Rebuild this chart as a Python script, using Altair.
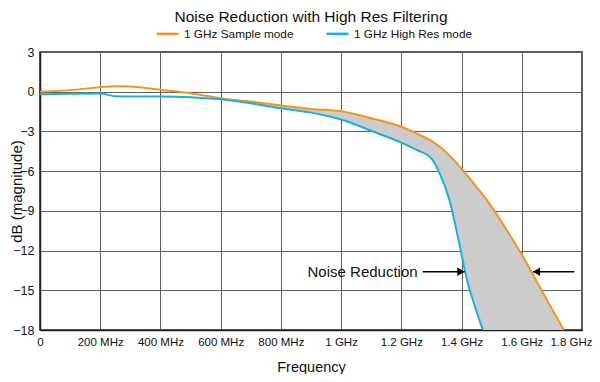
import altair as alt
import pandas as pd

# ---------------- data ----------------
series_names = ["1 GHz Sample mode", "1 GHz High Res mode"]
series_colors = ["#F7941D", "#1AAFDC"]

freq_ghz = [0.0, 0.1, 0.2, 0.25, 0.3, 0.4, 0.5, 0.6, 0.7, 0.8, 0.9, 1.0, 1.1, 1.2,
            1.25, 1.3, 1.33, 1.36, 1.39, 1.42, 1.45, 1.471, 1.5, 1.55, 1.6, 1.65, 1.7, 1.74]
sample_db = [0.0, 0.12, 0.34, 0.42, 0.40, 0.14, -0.11, -0.49, -0.74, -1.04, -1.3, -1.48, -2.0, -2.65,
             -3.15, -3.72, -4.2, -4.82, -5.55, -6.35, -7.2, -7.8, -8.7, -10.45, -12.3, -14.35, -16.4, -18.0]
highres_db = [-0.2, -0.16, -0.14, -0.34, -0.36, -0.36, -0.41, -0.57, -0.87, -1.25, -1.58, -2.1, -2.95, -3.85,
              -4.4, -5.05, -6.3, -8.2, -11.2, -14.4, -16.6, -18.0, None, None, None, None, None, None]
fill_start_ghz = 0.7   # grey "noise reduction" band starts here

x_ticks = [0.0, 0.2, 0.4, 0.6, 0.8, 1.0, 1.2, 1.4, 1.6, 1.8]
x_tick_labels = ["0", "200 MHz", "400 MHz", "600 MHz", "800 MHz", "1 GHz", "1.2 GHz", "1.4 GHz", "1.6 GHz", "1.8 GHz"]
y_ticks = [3, 0, -3, -6, -9, -12, -15, -18]
y_min, y_max = -18, 3

note_text = ["Noise Reduction"]
note_x = [1.254]
note_y = [-13.6]
arrow_x_start = [1.271, 1.775]
arrow_x_end = [1.410, 1.637]
arrow_y = [-13.6, -13.6]
head_x = [1.398, 1.649]
head_shape = ["triangle-right", "triangle-left"]

title_text = ["Noise Reduction with High Res Filtering"]

# ---------------- tables ----------------
rows = []
for name, vals in zip(series_names, [sample_db, highres_db]):
    for f, v in zip(freq_ghz, vals):
        if v is not None:
            rows.append({"freq": f, "db": v, "series": name})
lines_df = pd.DataFrame(rows)

area_rows = []
for f, up, lo in zip(freq_ghz, sample_db, highres_db):
    if f >= fill_start_ghz:
        area_rows.append({"freq": f, "upper": up, "lower": lo if lo is not None else y_min})
area_df = pd.DataFrame(area_rows)

note_df = pd.DataFrame({"x": note_x, "y": note_y, "t": note_text})
arrow_df = pd.DataFrame({"x": arrow_x_start, "x2": arrow_x_end, "y": arrow_y})
head_df = pd.DataFrame({"x": head_x, "y": arrow_y, "shape": head_shape})
title_df = pd.DataFrame({"t": title_text})

FONT = "Liberation Sans, Arial, Helvetica, sans-serif"
INK = "#111111"

label_expr = "[" + ",".join(f"'{s}'" for s in x_tick_labels) + "][round(datum.value*5)]"

x_scale = alt.Scale(domain=[0, 1.8], nice=False, zero=False)
y_scale = alt.Scale(domain=[y_min, y_max], nice=False, zero=False)

x_axis = alt.Axis(values=x_ticks, labelExpr=label_expr, title="Frequency", grid=True,
                  ticks=False, labelPadding=6, labelFont=FONT, labelFontSize=11.5,
                  labelOffset={"condition": {"test": "datum.value > 1.7", "value": -11}, "value": 0},
                  titleFont=FONT, titleFontSize=14.5, titleFontWeight="normal",
                  titleX=271, titleY=37, titleAlign="center", titleBaseline="middle",
                  labelColor=INK, titleColor=INK, labelFlush=False, labelOverlap=False)
y_axis = alt.Axis(values=y_ticks, title="dB (magnitude)", grid=True, ticks=False,
                  labelPadding=6, labelFont=FONT, labelFontSize=12.5,
                  titleFont=FONT, titleFontSize=15, titleFontWeight="normal",
                  titleX=-24, titleY=139, titleAngle=270, titleAlign="center", titleBaseline="middle",
                  labelColor=INK, titleColor=INK, labelFlush=False, labelOverlap=False)

def X(field):
    return alt.X(field, scale=x_scale, axis=x_axis)

def Y(field):
    return alt.Y(field, scale=y_scale, axis=y_axis)

area = alt.Chart(area_df).mark_area(color="#CCCCCC", interpolate="monotone", opacity=1).encode(
    x=X("freq:Q"), y=Y("upper:Q"), y2="lower:Q",
)

lines = alt.Chart(lines_df).mark_line(interpolate="monotone", strokeWidth=2).encode(
    x=X("freq:Q"),
    y=Y("db:Q"),
    color=alt.Color("series:N", scale=alt.Scale(domain=series_names, range=series_colors),
                    legend=alt.Legend(orient="none", legendX=115, legendY=-31, direction="horizontal",
                                      title=None, symbolType="stroke", symbolSize=484,
                                      symbolStrokeWidth=2.5, labelFont=FONT, labelFontSize=11.8,
                                      labelColor=INK, labelOffset=4, columnPadding=27, columns=2)),
    order=alt.Order("freq:Q"),
)

rules = alt.Chart(arrow_df).mark_rule(color="black", strokeWidth=1.3).encode(
    x=X("x:Q"), x2="x2:Q", y=Y("y:Q"))

heads = alt.Chart(head_df).mark_point(filled=True, color="black", opacity=1, size=70).encode(
    x=X("x:Q"), y=Y("y:Q"),
    shape=alt.Shape("shape:N", scale=None, legend=None))

note = alt.Chart(note_df).mark_text(align="right", baseline="middle", font=FONT, fontSize=15,
                                    color=INK).encode(
    x=X("x:Q"), y=Y("y:Q"), text="t:N")

title = alt.Chart(title_df).mark_text(align="center", baseline="middle", font=FONT, fontSize=15.5,
                                      color=INK).encode(
    x=alt.value(271), y=alt.value(-35), text="t:N")

chart = alt.layer(area, lines, rules, heads, note, title).properties(
    width=542, height=278,
    autosize=alt.AutoSizeParams(type="none"),
    padding={"left": 32, "top": 44, "right": 10, "bottom": 44},
).configure_view(stroke="#222", strokeWidth=1.5).configure_axis(
    gridColor="#606060", gridWidth=1, gridOpacity=1, domainColor="#222", domainWidth=1.5
)

chart.save("out.html", embed_options={"renderer": "svg", "actions": False})
